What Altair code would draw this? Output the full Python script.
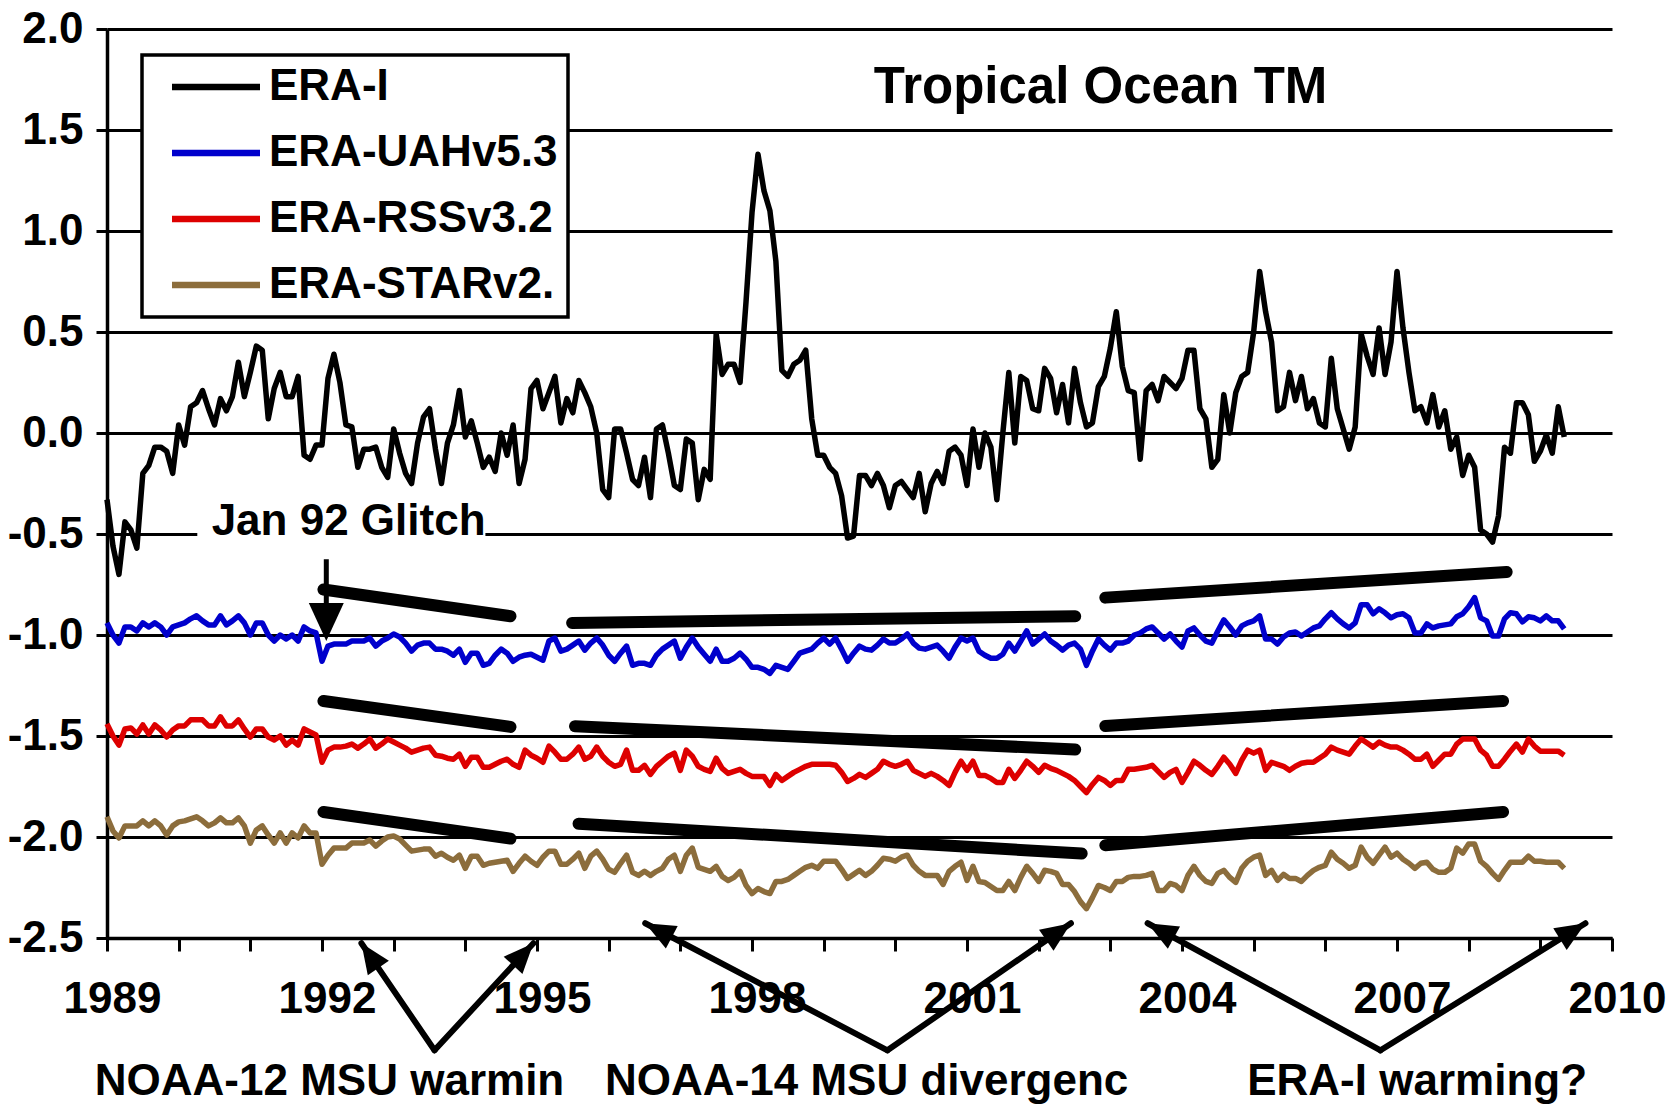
import math
import altair as alt
import pandas as pd

# ---------------- data (monthly, Jan 1989 onward) ----------------
series_names = ["ERA-I", "ERA-UAHv5.3", "ERA-RSSv3.2", "ERA-STARv2."]
series_colors = ["#000000", "#0000CC", "#DD0000", "#8C6D3C"]

era_i = [
    -0.33, -0.56, -0.70, -0.44, -0.48, -0.57, -0.20, -0.16, -0.07, -0.07,
    -0.09, -0.20, 0.04, -0.06, 0.13, 0.15, 0.21, 0.12, 0.04, 0.17,
    0.11, 0.18, 0.35, 0.18, 0.30, 0.43, 0.41, 0.07, 0.22, 0.30,
    0.18, 0.18, 0.28, -0.11, -0.13, -0.06, -0.06, 0.27, 0.39, 0.25,
    0.04, 0.03, -0.17, -0.08, -0.08, -0.07, -0.17, -0.22, 0.02, -0.10,
    -0.20, -0.25, -0.05, 0.08, 0.12, -0.08, -0.25, -0.05, 0.04, 0.21,
    -0.02, 0.06, -0.05, -0.17, -0.12, -0.19, 0.00, -0.11, 0.04, -0.25,
    -0.13, 0.22, 0.26, 0.12, 0.20, 0.28, 0.05, 0.17, 0.10, 0.26,
    0.20, 0.13, 0.00, -0.28, -0.32, 0.02, 0.02, -0.10, -0.23, -0.26,
    -0.12, -0.32, 0.02, 0.04, -0.10, -0.26, -0.28, -0.03, -0.05, -0.33,
    -0.18, -0.23, 0.49, 0.29, 0.34, 0.34, 0.25, 0.65, 1.09, 1.38,
    1.20, 1.10, 0.85, 0.31, 0.28, 0.34, 0.36, 0.41, 0.07, -0.11,
    -0.11, -0.17, -0.20, -0.31, -0.52, -0.51, -0.21, -0.21, -0.26, -0.20,
    -0.26, -0.37, -0.26, -0.24, -0.28, -0.32, -0.20, -0.39, -0.25, -0.19,
    -0.25, -0.09, -0.07, -0.11, -0.26, 0.02, -0.17, 0.00, -0.07, -0.33,
    0.00, 0.30, -0.05, 0.28, 0.26, 0.12, 0.11, 0.32, 0.27, 0.10,
    0.24, 0.05, 0.32, 0.15, 0.03, 0.05, 0.23, 0.28, 0.42, 0.60,
    0.33, 0.21, 0.20, -0.13, 0.21, 0.24, 0.16, 0.28, 0.25, 0.22,
    0.27, 0.41, 0.41, 0.12, 0.07, -0.17, -0.13, 0.19, 0.00, 0.20,
    0.28, 0.30, 0.50, 0.80, 0.60, 0.45, 0.11, 0.13, 0.30, 0.16,
    0.28, 0.12, 0.17, 0.05, 0.03, 0.37, 0.12, 0.02, -0.08, 0.03,
    0.49, 0.38, 0.29, 0.52, 0.29, 0.45, 0.80, 0.52, 0.30, 0.11,
    0.13, 0.05, 0.19, 0.03, 0.11, -0.08, -0.02, -0.21, -0.11, -0.17,
    -0.48, -0.50, -0.54, -0.41, -0.07, -0.10, 0.15, 0.15, 0.09, -0.14,
    -0.09, -0.01, -0.10, 0.13, -0.02,
]

uah = [
    -0.94, -1.00, -1.04, -0.96, -0.96, -0.98, -0.94, -0.96, -0.94, -0.96,
    -1.00, -0.96, -0.95, -0.94, -0.92, -0.905, -0.93, -0.95, -0.95, -0.905,
    -0.95, -0.93, -0.905, -0.94, -1.00, -0.94, -0.94, -1.00, -1.03, -1.00,
    -1.02, -1.00, -1.03, -0.96, -0.98, -0.99, -1.13, -1.055, -1.045, -1.045,
    -1.045, -1.03, -1.03, -1.03, -1.015, -1.055, -1.03, -1.015, -0.995, -1.01,
    -1.04, -1.08, -1.05, -1.04, -1.04, -1.07, -1.07, -1.08, -1.10, -1.07,
    -1.135, -1.09, -1.09, -1.15, -1.14, -1.10, -1.07, -1.09, -1.13, -1.11,
    -1.10, -1.095, -1.11, -1.125, -1.03, -1.015, -1.08, -1.07, -1.05, -1.03,
    -1.075, -1.04, -1.015, -1.05, -1.10, -1.13, -1.09, -1.055, -1.15, -1.14,
    -1.14, -1.15, -1.10, -1.07, -1.05, -1.03, -1.115, -1.06, -1.015, -1.06,
    -1.095, -1.13, -1.07, -1.13, -1.13, -1.115, -1.09, -1.12, -1.16, -1.16,
    -1.17, -1.19, -1.15, -1.16, -1.17, -1.13, -1.09, -1.08, -1.07, -1.04,
    -1.015, -1.045, -1.015, -1.07, -1.13, -1.09, -1.055, -1.07, -1.075, -1.05,
    -1.02, -1.04, -1.04, -1.02, -0.995, -1.04, -1.065, -1.07, -1.06, -1.05,
    -1.08, -1.115, -1.06, -1.015, -1.03, -1.015, -1.08, -1.10, -1.115, -1.115,
    -1.095, -1.04, -1.08, -1.03, -0.98, -1.045, -1.02, -0.995, -1.03, -1.05,
    -1.075, -1.05, -1.04, -1.07, -1.15, -1.08, -1.02, -1.05, -1.075, -1.04,
    -1.04, -1.03, -1.00, -0.99, -0.97, -0.96, -0.99, -1.02, -0.995, -1.03,
    -1.06, -0.98, -0.965, -1.00, -1.03, -1.04, -0.98, -0.925, -0.96, -1.00,
    -0.955, -0.94, -0.93, -0.905, -1.02, -1.02, -1.045, -1.01, -0.99, -0.985,
    -1.005, -0.985, -0.965, -0.955, -0.92, -0.89, -0.92, -0.945, -0.965, -0.94,
    -0.85, -0.85, -0.895, -0.87, -0.89, -0.915, -0.90, -0.895, -0.915, -0.99,
    -0.99, -0.945, -0.965, -0.955, -0.95, -0.945, -0.91, -0.895, -0.86, -0.815,
    -0.915, -0.93, -1.005, -1.005, -0.92, -0.89, -0.895, -0.935, -0.91, -0.915,
    -0.93, -0.905, -0.93, -0.93, -0.97,
]

rss = [
    -1.44, -1.50, -1.545, -1.465, -1.46, -1.49, -1.445, -1.49, -1.445, -1.47,
    -1.505, -1.47, -1.45, -1.45, -1.42, -1.42, -1.42, -1.45, -1.45, -1.405,
    -1.45, -1.45, -1.42, -1.465, -1.505, -1.465, -1.465, -1.505, -1.52, -1.50,
    -1.545, -1.52, -1.545, -1.465, -1.48, -1.495, -1.63, -1.57, -1.555, -1.555,
    -1.55, -1.54, -1.56, -1.54, -1.515, -1.56, -1.54, -1.515, -1.53, -1.545,
    -1.56, -1.58, -1.57, -1.56, -1.555, -1.595, -1.60, -1.61, -1.615, -1.59,
    -1.65, -1.605, -1.605, -1.655, -1.655, -1.64, -1.625, -1.615, -1.64, -1.655,
    -1.57, -1.595, -1.61, -1.63, -1.55, -1.58, -1.615, -1.615, -1.59, -1.555,
    -1.615, -1.60, -1.555, -1.60, -1.63, -1.65, -1.64, -1.57, -1.67, -1.67,
    -1.645, -1.69, -1.65, -1.625, -1.60, -1.585, -1.67, -1.57, -1.60, -1.65,
    -1.665, -1.675, -1.61, -1.66, -1.685, -1.675, -1.665, -1.685, -1.70, -1.70,
    -1.70, -1.745, -1.69, -1.72, -1.70, -1.68, -1.665, -1.65, -1.64, -1.64,
    -1.64, -1.64, -1.645, -1.68, -1.725, -1.71, -1.69, -1.705, -1.685, -1.665,
    -1.625, -1.64, -1.65, -1.64, -1.625, -1.67, -1.685, -1.70, -1.685, -1.70,
    -1.72, -1.745, -1.68, -1.625, -1.67, -1.625, -1.695, -1.695, -1.71, -1.73,
    -1.73, -1.665, -1.71, -1.67, -1.625, -1.65, -1.68, -1.645, -1.66, -1.67,
    -1.685, -1.70, -1.72, -1.75, -1.78, -1.74, -1.705, -1.72, -1.745, -1.72,
    -1.72, -1.665, -1.665, -1.66, -1.655, -1.645, -1.675, -1.705, -1.68, -1.665,
    -1.73, -1.68, -1.625, -1.645, -1.67, -1.69, -1.65, -1.605, -1.64, -1.685,
    -1.62, -1.57, -1.585, -1.57, -1.67, -1.63, -1.64, -1.65, -1.67, -1.65,
    -1.635, -1.63, -1.63, -1.61, -1.59, -1.555, -1.57, -1.58, -1.59, -1.55,
    -1.515, -1.535, -1.555, -1.53, -1.545, -1.555, -1.555, -1.57, -1.59, -1.615,
    -1.615, -1.59, -1.65, -1.62, -1.59, -1.59, -1.54, -1.515, -1.515, -1.515,
    -1.57, -1.595, -1.65, -1.65, -1.615, -1.575, -1.54, -1.58, -1.515, -1.55,
    -1.575, -1.575, -1.575, -1.575, -1.595,
]

star = [
    -1.90, -1.97, -2.005, -1.945, -1.945, -1.945, -1.92, -1.945, -1.92, -1.945,
    -1.99, -1.945, -1.925, -1.92, -1.91, -1.90, -1.92, -1.945, -1.93, -1.905,
    -1.93, -1.93, -1.905, -1.945, -2.03, -1.965, -1.945, -1.99, -2.03, -1.98,
    -2.03, -1.98, -2.005, -1.945, -1.98, -1.98, -2.135, -2.09, -2.055, -2.055,
    -2.055, -2.03, -2.03, -2.03, -2.015, -2.045, -2.02, -2.00, -1.995, -2.01,
    -2.04, -2.07, -2.065, -2.06, -2.06, -2.095, -2.08, -2.10, -2.115, -2.09,
    -2.155, -2.095, -2.095, -2.14, -2.13, -2.125, -2.12, -2.115, -2.17, -2.13,
    -2.095, -2.12, -2.14, -2.10, -2.07, -2.07, -2.135, -2.135, -2.11, -2.08,
    -2.155, -2.095, -2.07, -2.11, -2.16, -2.175, -2.13, -2.09, -2.175, -2.19,
    -2.17, -2.19, -2.17, -2.155, -2.11, -2.09, -2.17, -2.09, -2.055, -2.15,
    -2.16, -2.17, -2.145, -2.195, -2.215, -2.20, -2.17, -2.24, -2.28, -2.255,
    -2.27, -2.28, -2.22, -2.22, -2.21, -2.19, -2.17, -2.15, -2.14, -2.155,
    -2.12, -2.12, -2.12, -2.16, -2.205, -2.185, -2.165, -2.19, -2.17, -2.14,
    -2.105, -2.11, -2.12, -2.10, -2.09, -2.14, -2.17, -2.19, -2.19, -2.19,
    -2.235, -2.17, -2.145, -2.125, -2.215, -2.145, -2.22, -2.225, -2.245, -2.265,
    -2.265, -2.22, -2.265, -2.20, -2.145, -2.18, -2.22, -2.165, -2.17, -2.18,
    -2.235, -2.235, -2.27, -2.32, -2.355, -2.30, -2.24, -2.25, -2.265, -2.22,
    -2.22, -2.20, -2.195, -2.195, -2.19, -2.18, -2.265, -2.265, -2.23, -2.24,
    -2.265, -2.19, -2.145, -2.19, -2.22, -2.23, -2.18, -2.165, -2.20, -2.225,
    -2.155, -2.12, -2.10, -2.09, -2.19, -2.165, -2.215, -2.185, -2.205, -2.205,
    -2.22, -2.19, -2.165, -2.15, -2.14, -2.075, -2.11, -2.13, -2.155, -2.14,
    -2.05, -2.10, -2.13, -2.09, -2.05, -2.10, -2.08, -2.11, -2.13, -2.155,
    -2.13, -2.125, -2.16, -2.175, -2.175, -2.155, -2.055, -2.08, -2.035, -2.035,
    -2.12, -2.145, -2.18, -2.21, -2.165, -2.125, -2.125, -2.125, -2.095, -2.12,
    -2.12, -2.125, -2.125, -2.125, -2.155,
]

# trend segments (year, value) -> (year, value)
trend_x1 = [1992.02, 1992.02, 1992.02, 1995.49, 1995.53, 1995.58, 2002.93, 2002.93, 2002.93]
trend_y1 = [-0.775, -1.327, -1.876, -0.940, -1.452, -1.934, -0.815, -1.450, -2.041]
trend_x2 = [1994.63, 1994.63, 1994.63, 2002.51, 2002.51, 2002.60, 2008.53, 2008.48, 2008.48]
trend_y2 = [-0.907, -1.455, -2.008, -0.907, -1.567, -2.082, -0.688, -1.327, -1.876]

# V-shaped pointer arrows below the axis: vertex and the two arrow tips
v_vertex_x = [1993.57, 1999.89, 2006.77]
v_vertex_y = [-3.056, -3.056, -3.056]
v_left_x = [1992.55, 1996.51, 2003.52]
v_left_y = [-2.526, -2.427, -2.427]
v_right_x = [1994.95, 2002.45, 2009.63]
v_right_y = [-2.526, -2.427, -2.427]

# "Jan 92 Glitch" arrow
glitch_x = 1992.06
glitch_top = -0.625
glitch_tip = -1.03

bottom_texts = ["NOAA-12 MSU warmin", "NOAA-14 MSU divergenc", "ERA-I warming?"]
bottom_text_x = [1988.83, 1995.95, 2004.91]
bottom_text_y = -3.214

title_text = "Tropical Ocean TM"
title_x, title_y = 1999.70, 1.706
glitch_text = "Jan 92 Glitch"
glitch_text_x, glitch_text_y = 1990.46, -0.442
glitch_box = (1990.26, 1994.28, -0.36, -0.56)

# ---------------- layout ----------------
W, H = 1505, 909
XMIN, XMAX = 1989, 2010
YMIN, YMAX = -2.5, 2.0
PX_X = W / (XMAX - XMIN)
PX_Y = H / (YMAX - YMIN)
FONT = "Liberation Sans"
FS = 44
LW = 5.5

xs = alt.Scale(domain=[XMIN, XMAX], nice=False, zero=False)
ys = alt.Scale(domain=[YMIN, YMAX], nice=False, zero=False)

rows = []
for name, vals in zip(series_names, [era_i, uah, rss, star]):
    for i, v in enumerate(vals):
        rows.append({"x": XMIN + i / 12.0, "y": v, "series": name})
df = pd.DataFrame(rows)

x_axis = alt.Axis(
    values=list(range(1989, 2011)),
    labelExpr="datum.value % 3 == 0 ? format(datum.value, 'd') : ''",
    title=None, grid=False, tickSize=13, tickWidth=3, tickColor="black",
    domainColor="black", domainWidth=3.5, labelPadding=26, labelFlush=False,
    labelOverlap=False, labelOffset=5, labelFontSize=FS, labelFont=FONT,
    labelFontWeight="bold", labelColor="black",
)
y_axis = alt.Axis(
    values=[-2.5, -2.0, -1.5, -1.0, -0.5, 0.0, 0.5, 1.0, 1.5, 2.0],
    labelExpr="replace(format(datum.value, '.1f'), '\u2212', '-')",
    title=None, grid=True, gridColor="black", gridWidth=3, gridOpacity=1,
    tickSize=11, tickWidth=3, tickColor="black", domainColor="black",
    domainWidth=3.5, labelPadding=13, labelFontSize=FS, labelFont=FONT,
    labelFontWeight="bold", labelColor="black",
)


def X(field="x"):
    return alt.X(f"{field}:Q", scale=xs, axis=x_axis)


def Y(field="y"):
    return alt.Y(f"{field}:Q", scale=ys, axis=y_axis)


box_df = pd.DataFrame([{"x": glitch_box[0], "x2": glitch_box[1], "y": glitch_box[2], "y2": glitch_box[3]}])
box = alt.Chart(box_df).mark_rect(color="white").encode(x=X(), x2="x2:Q", y=Y(), y2="y2:Q")

# legend symbol: a long horizontal stroke drawn with a small nominal size,
# so the legend rows keep the label height
SYM = 22
lines = alt.Chart(df).mark_line(strokeWidth=LW, strokeJoin="round").encode(
    x=X(), y=Y(),
    color=alt.Color(
        "series:N",
        scale=alt.Scale(domain=series_names, range=series_colors),
        legend=alt.Legend(
            orient="none", legendX=35, legendY=26, title=None,
            symbolType="M-4,0L4,0", symbolSize=SYM * SYM, symbolStrokeWidth=6.5,
            symbolFillColor="transparent",
            labelFontSize=FS, labelFont=FONT, labelFontWeight="bold",
            labelColor="black", padding=10, symbolOffset=42, labelOffset=31,
            rowPadding=22, strokeColor="black", fillColor="white", labelLimit=1000,
        ),
    ),
)

trend_df = pd.DataFrame({"x": trend_x1, "y": trend_y1, "x2": trend_x2, "y2": trend_y2})
trends = alt.Chart(trend_df).mark_rule(strokeWidth=12, strokeCap="round", color="black").encode(
    x=X(), y=Y(), x2="x2:Q", y2="y2:Q",
)

# V arrows: arms from the vertex to each tip, plus arrowheads at the tips
arm_rows = []
head_rows = []
HEAD_LEN = 30.0
for i in range(3):
    for tx, ty in [(v_left_x[i], v_left_y[i]), (v_right_x[i], v_right_y[i])]:
        arm_rows.append({"x": v_vertex_x[i], "y": v_vertex_y[i], "x2": tx, "y2": ty})
        dxp = (tx - v_vertex_x[i]) * PX_X
        dyp = -(ty - v_vertex_y[i]) * PX_Y
        L = math.hypot(dxp, dyp)
        ux, uy = dxp / L, dyp / L
        back = HEAD_LEN / 2
        cx = tx - back * ux / PX_X
        cy = ty + back * uy / PX_Y
        ang = math.degrees(math.atan2(ux, -uy)) % 360
        head_rows.append({"x": cx, "y": cy, "ang": ang})
arm_df = pd.DataFrame(arm_rows)
arms = alt.Chart(arm_df).mark_rule(strokeWidth=6, color="black", strokeCap="round").encode(
    x=X(), y=Y(), x2="x2:Q", y2="y2:Q",
)
head_df = pd.DataFrame(head_rows)
heads = alt.Chart(head_df).mark_point(
    shape="M-0.85,1L0,-1L0.85,1Z", filled=True, color="black", opacity=1,
    size=HEAD_LEN * HEAD_LEN, strokeWidth=0,
).encode(x=X(), y=Y(), angle=alt.Angle("ang:Q", scale=None))

g_head_len = 38.0
g_head_center = glitch_tip + (g_head_len / 2) / PX_Y
shaft_df = pd.DataFrame([{"x": glitch_x, "y": glitch_top, "y2": glitch_tip + g_head_len * 0.8 / PX_Y}])
shaft = alt.Chart(shaft_df).mark_rule(strokeWidth=5, color="black").encode(x=X(), y=Y(), y2="y2:Q")
ghead_df = pd.DataFrame([{"x": glitch_x, "y": g_head_center}])
ghead = alt.Chart(ghead_df).mark_point(
    shape="M-0.92,-1L0.92,-1L0,1Z", filled=True, color="black", opacity=1,
    size=g_head_len * g_head_len, strokeWidth=0,
).encode(x=X(), y=Y())

txt_df = pd.DataFrame(
    [{"x": glitch_text_x, "y": glitch_text_y, "t": glitch_text}]
    + [{"x": bx, "y": bottom_text_y, "t": bt} for bx, bt in zip(bottom_text_x, bottom_texts)]
)
texts = alt.Chart(txt_df).mark_text(
    align="left", baseline="middle", font=FONT, fontSize=FS, fontWeight="bold", color="black",
).encode(x=X(), y=Y(), text="t:N")

title_df = pd.DataFrame([{"x": title_x, "y": title_y, "t": title_text}])
title = alt.Chart(title_df).mark_text(
    align="left", baseline="middle", font=FONT, fontSize=51, fontWeight="bold", color="black",
).encode(x=X(), y=Y(), text="t:N")

chart = alt.layer(box, lines, trends, arms, heads, shaft, ghead, texts, title).properties(
    width=W, height=H,
    padding={"left": 107, "top": 29, "right": 1671 - 107 - W, "bottom": 1107 - 29 - H},
    autosize=alt.AutoSizeParams(type="none"),
).configure_view(stroke=None).configure_legend(strokeWidth=3.5)

chart.save("out.html", embed_options={"renderer": "svg", "actions": False})
